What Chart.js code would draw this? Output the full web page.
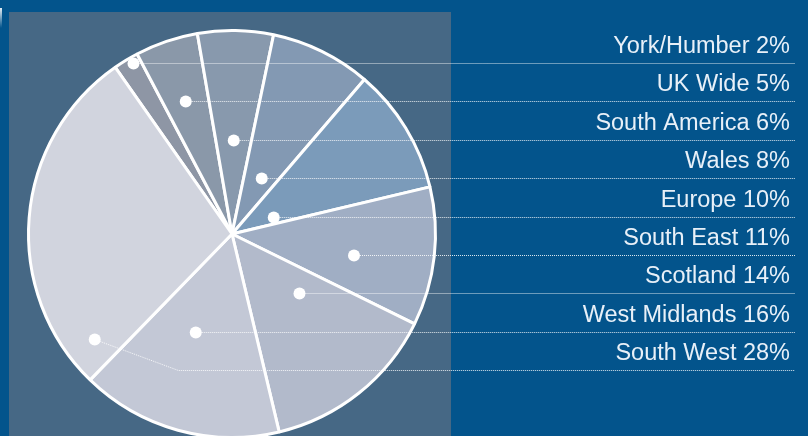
<!DOCTYPE html>
<html>
<head>
<meta charset="utf-8">
<script src="https://cdn.jsdelivr.net/npm/chart.js@4.4.1/dist/chart.umd.min.js"></script>
<style>
  html, body { margin: 0; padding: 0; width: 808px; height: 436px; overflow: hidden; background: #03548c; }
  #panel { position: absolute; left: 9px; top: 12px; width: 442px; height: 440px; background: #466885; }
  #flick { position: absolute; left: 0; top: 8px; width: 2px; height: 20px;
           background: linear-gradient(to bottom, rgba(255,255,255,0.9), rgba(255,255,255,0)); }
  #wrap { position: absolute; left: 0; top: 0; width: 808px; height: 450px; }
</style>
</head>
<body>
<div id="panel"></div>
<div id="flick"></div>
<div id="wrap"><canvas id="pie" width="808" height="450"></canvas></div>
<script>
const regions = ['York/Humber', 'UK Wide', 'South America', 'Wales', 'Europe', 'South East', 'Scotland', 'West Midlands', 'South West'];
const shares = [2, 5, 6, 8, 10, 11, 14, 16, 28];
const sliceColors = ['#8e96a5', '#8a98a9', '#8899ad', '#8399b3', '#7b9bba', '#a0aec4', '#b2bacb', '#c3c8d6', '#d1d4de'];

// finds the x span where a horizontal line crosses one slice
function spanAt(arc, y) {
    const p = arc.getProps(['x', 'y', 'startAngle', 'endAngle', 'outerRadius']);
    let minX = null, maxX = null;
    for (let x = p.x - p.outerRadius; x <= p.x + p.outerRadius; x += 0.5) {
        const dx = x - p.x, dy = y - p.y;
        if (Math.sqrt(dx * dx + dy * dy) > p.outerRadius - 2) continue;
        let a = Math.atan2(dy, dx);
        while (a < p.startAngle) a += Math.PI * 2;
        if (a > p.endAngle) continue;
        if (minX === null) minX = x;
        maxX = x;
    }
    return minX === null ? null : [minX, maxX];
}

const calloutPlugin = {
    id: 'callouts',
    afterDatasetsDraw(chart) {
        const ctx = chart.ctx;
        const arcs = chart.getDatasetMeta(0).data;
        const rowTop = 63, rowGap = 38.4, lineEnd = 795, textRight = 790;
        const elbowIndex = regions.length - 1; // last label is pulled up into its slice
        ctx.save();
        regions.forEach((name, i) => {
            const rowY = Math.round(rowTop + rowGap * i) + 0.5;
            let dotY = rowY;
            const bent = i === elbowIndex;
            if (bent) dotY = rowY - 31;
            const span = spanAt(arcs[i], dotY) || [arcs[i].x, arcs[i].x];
            const dotX = (span[0] + span[1]) / 2;

            ctx.strokeStyle = 'rgba(255,255,255,0.85)';
            ctx.lineWidth = 1;
            ctx.setLineDash([1, 1]);
            ctx.beginPath();
            ctx.moveTo(dotX, dotY);
            if (bent) ctx.lineTo(dotX + (rowY - dotY) * 2.7, rowY);
            ctx.lineTo(lineEnd, rowY);
            ctx.stroke();
            ctx.setLineDash([]);

            ctx.fillStyle = '#ffffff';
            ctx.beginPath();
            ctx.arc(dotX, dotY, 6, 0, Math.PI * 2);
            ctx.fill();

            ctx.fillStyle = '#e8f0f8';
            ctx.font = '23.5px "Liberation Sans", Arial, sans-serif';
            ctx.textAlign = 'right';
            ctx.textBaseline = 'alphabetic';
            ctx.fillText(name + ' ' + shares[i] + '%', textRight, rowY - 11);
        });
        ctx.restore();
    }
};

new Chart(document.getElementById('pie'), {
    type: 'pie',
    data: {
        labels: regions,
        datasets: [{
            data: shares,
            backgroundColor: sliceColors,
            borderColor: '#ffffff',
            borderWidth: 3
        }]
    },
    options: {
        responsive: false,
        animation: false,
        rotation: -35,
        layout: { padding: { left: 27, top: 29, right: 371, bottom: 11 } },
        plugins: {
            legend: { display: false },
            tooltip: { enabled: false }
        }
    },
    plugins: [calloutPlugin]
});
</script>
</body>
</html>
